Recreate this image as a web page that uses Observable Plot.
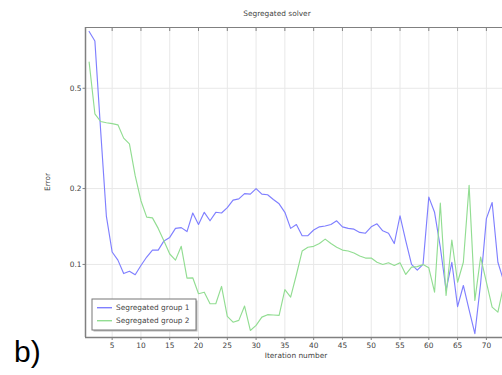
<!DOCTYPE html>
<html><head><meta charset="utf-8">
<script src="https://cdn.jsdelivr.net/npm/d3@7"></script>
<script src="https://cdn.jsdelivr.net/npm/@observablehq/plot@0.6"></script>
<style>body{margin:0;background:#fff} svg{display:block}</style>
</head><body><div id="chart"></div>
<script>
const iterations = [1,2,3,4,5,6,7,8,9,10,11,12,13,14,15,16,17,18,19,20,21,22,23,24,25,26,27,28,29,30,31,32,33,34,35,36,37,38,39,40,41,42,43,44,45,46,47,48,49,50,51,52,53,54,55,56,57,58,59,60,61,62,63,64,65,66,67,68,69,70,71,72,73];
const group1 = [0.84,0.77,0.34,0.155,0.112,0.104,0.092,0.094,0.091,0.099,0.107,0.114,0.114,0.124,0.128,0.139,0.140,0.135,0.160,0.144,0.161,0.149,0.161,0.160,0.168,0.180,0.182,0.191,0.190,0.200,0.190,0.189,0.181,0.174,0.161,0.139,0.144,0.130,0.130,0.137,0.141,0.142,0.144,0.149,0.141,0.139,0.138,0.134,0.133,0.141,0.145,0.136,0.133,0.121,0.156,0.124,0.100,0.095,0.100,0.185,0.161,0.117,0.079,0.102,0.068,0.0825,0.066,0.0531,0.084,0.152,0.176,0.102,0.086];
const group2 = [0.635,0.396,0.369,0.365,0.362,0.358,0.317,0.301,0.225,0.179,0.154,0.153,0.139,0.124,0.110,0.104,0.118,0.0882,0.0885,0.0765,0.0776,0.0698,0.0698,0.0818,0.0622,0.059,0.060,0.0684,0.0547,0.0573,0.0618,0.0632,0.063,0.0628,0.0794,0.0742,0.091,0.113,0.117,0.118,0.121,0.126,0.121,0.117,0.114,0.113,0.111,0.108,0.106,0.106,0.102,0.100,0.1015,0.099,0.1015,0.0913,0.0976,0.098,0.100,0.097,0.0776,0.175,0.0753,0.125,0.085,0.102,0.206,0.072,0.107,0.085,0.0677,0.0647,0.0825];
const seriesNames = ["Segregated group 1", "Segregated group 2"];
const seriesColors = ["#7f7fff", "#92dd92"];
const xTicks = [5,10,15,20,25,30,35,40,45,50,55,60,65,70];
const yTicks = [0.1, 0.2, 0.5];
const xDomain = [0.37, 72.8];
const yDomain = [0.0513, 0.871];
const titleText = "Segregated solver";
const xLabel = "Iteration number";
const yLabel = "Error";
const panelLabel = "b)";

const rows = [];
iterations.forEach((it, i) => {
  rows.push({it, err: group1[i], s: seriesNames[0]});
});
iterations.forEach((it, i) => {
  rows.push({it, err: group2[i], s: seriesNames[1]});
});

const font = "DejaVu Sans";
const frameStroke = "#808080";
const chart = Plot.plot({
  width: 502, height: 375,
  marginLeft: 85, marginTop: 27, marginBottom: 38, marginRight: 0,
  style: {fontFamily: font, fontSize: "7.4px", color: "#444", background: "#fff"},
  x: {domain: xDomain},
  y: {type: "log", domain: yDomain},
  color: {domain: seriesNames, range: seriesColors},
  marks: [
    Plot.gridX(xTicks, {stroke: "#e8e8e8", strokeOpacity: 1}),
    Plot.gridY(yTicks, {stroke: "#e8e8e8", strokeOpacity: 1}),
    Plot.axisX({ticks: xTicks, tickSize: 3, tickPadding: 2, label: null, stroke: frameStroke, fill: "#444"}),
    Plot.axisX({anchor: "top", ticks: xTicks, tickSize: -3, tickFormat: () => "", label: null, stroke: frameStroke}),
    Plot.axisY({ticks: yTicks, tickSize: 2.5, tickPadding: 1.5, tickFormat: d => String(d), label: null, stroke: frameStroke, fill: "#444"}),
    Plot.line(rows, {x: "it", y: "err", z: "s", stroke: "s", strokeWidth: 1.15, clip: true}),
    Plot.ruleX([xDomain[0]], {stroke: frameStroke, strokeWidth: 1.5}),
    Plot.ruleY([yDomain[0]], {stroke: frameStroke, strokeWidth: 1.5}),
    Plot.ruleY([yDomain[1]], {stroke: frameStroke, strokeWidth: 1.2})
  ]
});
document.getElementById("chart").appendChild(chart);

const svg = d3.select(chart);
svg.append("text").attr("x", 277).attr("y", 16).attr("text-anchor", "middle")
  .attr("font-family", font).attr("font-size", 7.4).attr("fill", "#444").text(titleText);
svg.append("text").attr("x", 296).attr("y", 358).attr("text-anchor", "middle")
  .attr("font-family", font).attr("font-size", 7.4).attr("fill", "#444").text(xLabel);
svg.append("text").attr("transform", "translate(50,182) rotate(-90)").attr("text-anchor", "middle")
  .attr("font-family", font).attr("font-size", 7.4).attr("fill", "#444").text(yLabel);
svg.append("text").attr("x", 14).attr("y", 362).attr("text-anchor", "start")
  .attr("font-family", "Liberation Sans, Arial, sans-serif").attr("font-size", 30).attr("fill", "#000").text(panelLabel);

const lg = svg.append("g");
lg.append("rect").attr("x", 93.5).attr("y", 300.5).attr("width", 104).attr("height", 31).attr("fill", "#b8b8b8");
lg.append("rect").attr("x", 92).attr("y", 299).attr("width", 104).attr("height", 31)
  .attr("fill", "#fff").attr("stroke", "#777").attr("stroke-width", 1);
seriesNames.forEach((name, i) => {
  const yy = 307.7 + i * 13;
  lg.append("line").attr("x1", 97).attr("x2", 112).attr("y1", yy).attr("y2", yy)
    .attr("stroke", seriesColors[i]).attr("stroke-width", 1.4);
  lg.append("text").attr("x", 116).attr("y", yy).attr("dy", "0.35em").attr("text-anchor", "start")
    .attr("font-family", font).attr("font-size", 7.4).attr("fill", "#444").text(name);
});
</script>
</body></html>
